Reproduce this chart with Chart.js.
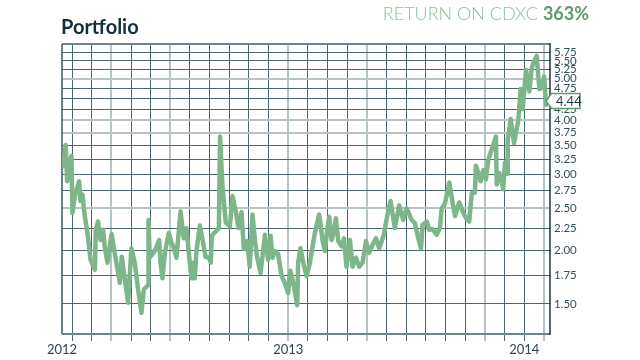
<!DOCTYPE html>
<html>
<head>
<meta charset="utf-8">
<script src="https://cdn.jsdelivr.net/npm/chart.js@4.4.1/dist/chart.umd.min.js"></script>
<style>
  html, body { margin: 0; padding: 0; background: #fff; }
</style>
</head>
<body>
<canvas id="portfolioChart" width="640" height="360"></canvas>
<script>
// x values are months since Jan 2012 (0 = 1 Jan 2012)
const months = [
  0.54, 0.68, 0.75, 0.85, 0.97, 1.02, 1.14, 1.36, 1.43, 1.53,
  1.65, 1.81, 1.94, 2.16, 2.21, 2.32, 2.45, 2.58, 2.66, 2.80,
  3.01, 3.17, 3.43, 3.53, 3.68, 3.85, 4.02, 4.19, 4.36, 4.53,
  4.65, 4.87, 4.89, 4.95, 5.21, 5.43, 5.50, 5.60, 5.72, 5.92,
  6.06, 6.18, 6.31, 6.52, 6.68, 6.82, 6.99, 7.08, 7.16, 7.24,
  7.33, 7.50, 7.67, 7.79, 7.96, 8.06, 8.11, 8.47, 8.53, 8.65,
  8.82, 9.03, 9.16, 9.33, 9.47, 9.62, 9.74, 9.91, 10.04, 10.18,
  10.30, 10.41, 10.59, 10.81, 10.97, 11.10, 11.20, 11.32, 11.48, 11.66,
  11.82, 11.99, 12.11, 12.25, 12.45, 12.50, 12.62, 12.76, 12.93, 13.10,
  13.35, 13.57, 13.74, 13.86, 13.98, 14.08, 14.20, 14.32, 14.42, 14.54,
  14.71, 14.83, 14.96, 15.13, 15.27, 15.44, 15.61, 15.78, 15.95, 16.11,
  16.29, 16.46, 16.62, 16.86, 17.03, 17.20, 17.42, 17.64, 17.84, 18.02,
  18.27, 18.44, 18.61, 18.75, 18.83, 19.04, 19.17, 19.34, 19.54, 19.71,
  19.80, 19.97, 20.19, 20.36, 20.48, 20.69, 20.87, 21.04, 21.20, 21.33,
  21.49, 21.54, 21.66, 21.78, 21.92, 22.05, 22.17, 22.34, 22.56, 22.60,
  22.73, 22.85, 22.93, 23.02, 23.14, 23.16, 23.31, 23.48, 23.70, 23.82,
  23.92, 24.09, 24.26, 24.38, 24.46, 24.63, 24.77, 24.89, 25.01, 25.11, 25.18
];
const values = [
  3.13, 3.51, 2.89, 3.16, 3.31, 2.44, 2.67, 2.89, 2.60, 2.69,
  2.40, 2.15, 1.90, 1.80, 2.23, 2.33, 2.11, 2.23, 2.04, 1.87,
  2.18, 1.97, 1.68, 1.93, 1.72, 1.51, 2.02, 1.87, 1.62, 1.43,
  1.62, 1.66, 2.35, 1.92, 1.99, 2.11, 1.87, 1.72, 1.97, 2.19,
  2.08, 2.02, 1.92, 2.46, 2.13, 2.25, 1.87, 1.72, 1.87, 1.72,
  1.99, 2.28, 2.08, 1.93, 1.92, 1.87, 2.16, 2.25, 3.67, 2.81,
  2.32, 2.27, 2.67, 2.46, 2.25, 2.45, 2.01, 2.10, 1.83, 2.42,
  2.11, 1.93, 1.77, 2.17, 1.90, 2.16, 1.92, 1.99, 1.96, 1.74,
  1.68, 1.59, 1.79, 1.68, 1.49, 1.87, 2.02, 1.87, 1.74, 1.87,
  2.19, 2.42, 2.11, 1.99, 2.23, 2.39, 2.11, 2.21, 2.37, 2.10,
  2.04, 2.13, 1.83, 2.11, 1.83, 1.92, 1.83, 1.87, 2.10, 1.97,
  2.06, 2.13, 2.02, 2.17, 2.40, 2.60, 2.25, 2.54, 2.35, 2.50,
  2.35, 2.31, 2.13, 2.02, 2.29, 2.33, 2.23, 2.24, 2.17, 2.25,
  2.50, 2.57, 2.87, 2.57, 2.40, 2.58, 2.46, 2.37, 2.33, 2.71,
  2.72, 3.14, 3.02, 2.89, 3.07, 2.92, 3.24, 3.42, 3.67, 2.84,
  3.02, 2.89, 2.77, 3.19, 3.01, 3.61, 4.03, 3.54, 4.01, 4.73,
  4.25, 5.24, 4.67, 5.29, 5.43, 5.65, 4.73, 4.76, 5.06, 4.35, 4.44
];

const xMin = 0.49, xMax = 25.31;
const yMin = 1.277, yMax = 6.02;

const monthLines = [xMin, 1, 2, 3, 4, 5, 6, 7, 8, 9, 10, 11, 12, 13, 14, 15, 16, 17, 18, 19, 20, 21, 22, 23, 24, 25];
const lightMonths = [3, 6, 12, 16, 22, 25];
const yearTicks = [xMin, 12, 24];
const yearNames = ['2012', '2013', '2014'];

const levels = [1.5, 1.75, 2, 2.25, 2.5, 2.75, 3, 3.25, 3.5, 3.75, 4, 4.25, 4.5, 4.75, 5, 5.25, 5.5, 5.75];
const lightLevels = [2.5, 3.75, 4, 5];

const titleText = 'Portfolio';
const returnLabel = 'RETURN ON CDXC';
const returnValue = '363%';

const darkGrid = '#4b6870';
const lightGrid = '#b6c4c6';

function gridColorX(c) {
  if (!c.tick || c.tick.value === xMin) return 'rgba(0,0,0,0)';
  return lightMonths.includes(c.tick.value) ? lightGrid : darkGrid;
}

const decorations = {
  id: 'decorations',
  beforeDraw(chart) {
    const ctx = chart.ctx;
    ctx.save();
    ctx.fillStyle = '#ffffff';
    ctx.fillRect(0, 0, chart.width, chart.height);
    ctx.restore();
  },
  beforeDatasetsDraw(chart) {
    const { ctx, chartArea: a } = chart;
    ctx.save();
    ctx.strokeStyle = '#6c848b';
    ctx.lineWidth = 2;
    ctx.beginPath();
    ctx.moveTo(a.left, a.top); ctx.lineTo(a.right, a.top);
    ctx.moveTo(a.left, a.bottom); ctx.lineTo(a.right, a.bottom);
    ctx.stroke();
    ctx.strokeStyle = '#3d5961';
    ctx.lineWidth = 1.5;
    ctx.beginPath();
    ctx.moveTo(a.left, a.top); ctx.lineTo(a.left, a.bottom);
    ctx.stroke();
    ctx.strokeStyle = '#1b353d';
    ctx.beginPath();
    ctx.moveTo(a.right, a.top - 1); ctx.lineTo(a.right, a.bottom + 1);
    ctx.stroke();
    ctx.restore();
  },
  afterDraw(chart) {
    const { ctx, chartArea: a } = chart;
    ctx.save();
    // title
    ctx.font = 'bold 20px Lato';
    ctx.fillStyle = '#10313c';
    ctx.textAlign = 'left';
    ctx.textBaseline = 'alphabetic';
    ctx.fillText(titleText, 61, 34);

    // return headline
    ctx.textAlign = 'right';
    ctx.font = 'bold 18px Lato';
    const w = ctx.measureText(returnValue).width;
    ctx.fillStyle = '#5c9b6c';
    ctx.fillText(returnValue, 589, 20);
    ctx.font = '300 18px Lato';
    ctx.fillStyle = '#8cc09a';
    ctx.fillText(returnLabel, 589 - w - 5, 20);

    // last value callout
    const last = values[values.length - 1];
    const y = chart.scales.y.getPixelForValue(last);
    const tip = a.right - 4;
    const bl = a.right + 1.5, br = a.right + 30, h = 7.5;
    ctx.beginPath();
    ctx.moveTo(tip, y);
    ctx.lineTo(bl, y - h);
    ctx.lineTo(br, y - h);
    ctx.lineTo(br, y + h);
    ctx.lineTo(bl, y + h);
    ctx.closePath();
    ctx.fillStyle = '#ffffff';
    ctx.fill();
    ctx.strokeStyle = '#5c9b6c';
    ctx.lineWidth = 1.5;
    ctx.stroke();
    ctx.font = '13px Lato';
    ctx.fillStyle = '#1d3942';
    ctx.textAlign = 'left';
    ctx.textBaseline = 'middle';
    ctx.fillText(last.toFixed(2), a.right + 6, y + 0.5);
    ctx.restore();
  }
};

new Chart(document.getElementById('portfolioChart'), {
  type: 'line',
  data: {
    datasets: [{
      data: months.map((m, i) => ({ x: m, y: values[i] })),
      borderColor: '#7db68a',
      borderWidth: 4.5,
      pointRadius: 0,
      tension: 0,
      fill: false,
      borderJoinStyle: 'round',
      borderCapStyle: 'round'
    }]
  },
  options: {
    responsive: false,
    animation: false,
    devicePixelRatio: 1,
    layout: { padding: { left: 62, top: 44, right: 0, bottom: 0 } },
    plugins: {
      legend: { display: false },
      tooltip: { enabled: false }
    },
    scales: {
      x: {
        type: 'linear',
        min: xMin,
        max: xMax,
        afterBuildTicks: s => { s.ticks = monthLines.map(v => ({ value: v })); },
        afterFit: s => { s.height = 26; },
        border: { display: false },
        grid: {
          color: gridColorX,
          tickColor: gridColorX,
          lineWidth: c => (c.tick && lightMonths.includes(c.tick.value)) ? 2 : 1,
          tickLength: 7
        },
        ticks: {
          autoSkip: false,
          maxRotation: 0,
          padding: 1,
          color: '#2c4650',
          font: { family: 'Lato', size: 13 },
          callback: v => {
            const i = yearTicks.indexOf(v);
            return i >= 0 ? yearNames[i] : '';
          }
        }
      },
      y: {
        type: 'logarithmic',
        position: 'right',
        min: yMin,
        max: yMax,
        afterBuildTicks: s => { s.ticks = levels.map(v => ({ value: v })); },
        afterFit: s => { s.width = 90; },
        border: { display: false },
        grid: {
          color: c => (c.tick && lightLevels.includes(c.tick.value)) ? lightGrid : darkGrid,
          lineWidth: c => (c.tick && lightLevels.includes(c.tick.value)) ? 2 : 1,
          drawTicks: false
        },
        ticks: {
          autoSkip: false,
          padding: 4,
          color: '#34505a',
          font: { family: 'Lato', size: 11.5 },
          callback: v => Number(v).toFixed(2)
        }
      }
    }
  },
  plugins: [decorations]
});
</script>
</body>
</html>
